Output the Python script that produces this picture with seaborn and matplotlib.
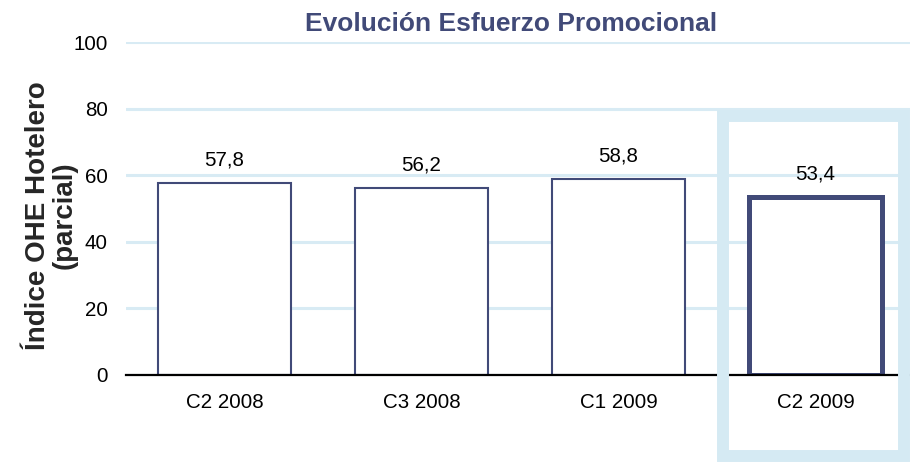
import matplotlib
matplotlib.use("Agg")
import matplotlib.pyplot as plt
import seaborn as sns
from matplotlib.patches import Rectangle
from matplotlib.ticker import FixedLocator

# data
categories = ["C2 2008", "C3 2008", "C1 2009", "C2 2009"]
values = [57.8, 56.2, 58.8, 53.4]
y_ticks = [0, 20, 40, 60, 80, 100]

title = "Evolución Esfuerzo Promocional"
y_label = "Índice OHE Hotelero\n(parcial)"

navy = "#414a78"
grid_blue = "#d8ebf4"
box_blue = "#d5eaf3"

sns.set_style("white")
plt.rcParams["font.family"] = ["Liberation Sans", "DejaVu Sans"]

fig = plt.figure(figsize=(9.1, 4.62), dpi=100)
ax = fig.add_axes([126 / 910, 1 - 375 / 462, 788 / 910, 333 / 462])

sns.barplot(x=categories, y=values, color="white", saturation=1,
            edgecolor=navy, linewidth=1.5, width=0.675, ax=ax, zorder=3)
# highlighted (latest) period gets a heavier outline
ax.patches[-1].set_linewidth(3.6)

ax.set_xlim(-0.5, len(categories) - 0.5)
ax.set_ylim(0, 100)
ax.set_yticks(y_ticks)
ax.yaxis.grid(True, color=grid_blue, linewidth=2.2, zorder=0)
ax.set_axisbelow(True)

for s in ["top", "right", "left"]:
    ax.spines[s].set_visible(False)
ax.spines["bottom"].set_color("black")
ax.spines["bottom"].set_linewidth(1.6)
ax.spines["bottom"].set_zorder(4)

ax.tick_params(axis="y", length=0, pad=13, labelsize=14.8, labelcolor="black")
ax.tick_params(axis="x", which="major", length=0, pad=13, labelsize=14.8, labelcolor="black")
ax.xaxis.set_minor_locator(FixedLocator([i - 0.5 for i in range(len(categories) + 1)]))
ax.tick_params(axis="x", which="minor", direction="out", length=5, width=1.6, color="black")
ax.set_xlabel("")

ax.set_ylabel(y_label, fontsize=20, fontweight="bold", linespacing=1.0)
ax.yaxis.set_label_coords(-0.062, 0.48)

for i, v in enumerate(values):
    ax.annotate(f"{v:.1f}".replace(".", ","), (i, v), xytext=(0, 12.5),
                textcoords="offset points", ha="center", va="baseline",
                fontsize=14.8, color="black")

fig.text(511 / 910, 1 - 24 / 462, title, ha="center", va="center",
         fontsize=19, fontweight="bold", color=navy)

# light-blue frame around the current period
fig.add_artist(Rectangle((723 / 910, 1 - 456 / 462), 181 / 910, 340 / 462,
                         transform=fig.transFigure, fill=False,
                         edgecolor=box_blue, linewidth=8.6, zorder=10))

fig.savefig("out.png", dpi=100)
